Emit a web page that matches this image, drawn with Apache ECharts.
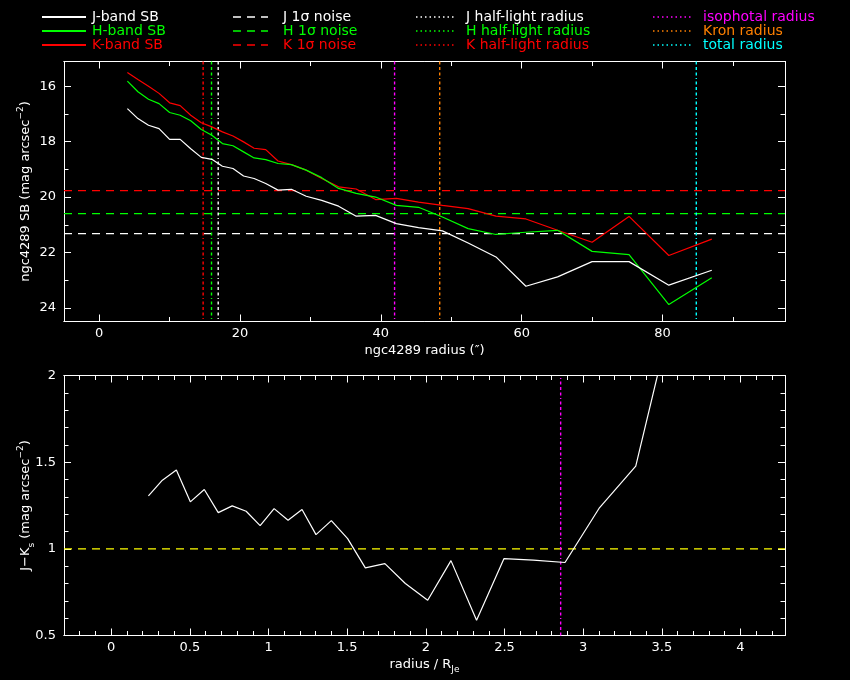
<!DOCTYPE html>
<html>
<head>
<meta charset="utf-8">
<script src="https://cdn.jsdelivr.net/npm/echarts@6/dist/echarts.min.js"></script>
<style>html,body{margin:0;padding:0;background:#000;}#c{width:850px;height:680px;}</style>
</head>
<body>
<div id="c"></div>
<script>
// ---------------- data ----------------
const radii = [4.0, 5.5, 7.0, 8.5, 10.0, 11.5, 13.0, 14.5, 16.0, 17.5, 19.0, 20.5, 22.0, 23.65, 25.4, 27.3, 29.4, 31.6, 34.0, 36.5, 39.25, 42.2, 45.35, 48.75, 52.4, 56.35, 60.6, 65.1, 70.0, 75.25, 80.9, 87.0];
const jSB = [16.81, 17.17, 17.41, 17.53, 17.92, 17.92, 18.26, 18.57, 18.64, 18.89, 18.97, 19.24, 19.33, 19.51, 19.75, 19.72, 19.97, 20.12, 20.33, 20.69, 20.66, 20.96, 21.10, 21.22, 21.66, 22.16, 23.22, 22.88, 22.33, 22.33, 23.18, 22.64];
const hSB = [15.82, 16.20, 16.47, 16.63, 16.95, 17.05, 17.25, 17.56, 17.77, 18.07, 18.15, 18.37, 18.59, 18.65, 18.79, 18.83, 19.03, 19.30, 19.69, 19.87, 20.00, 20.30, 20.37, 20.72, 21.14, 21.35, 21.27, 21.20, 21.96, 22.08, 23.88, 22.91];
const kSB = [15.51, 15.76, 16.00, 16.26, 16.60, 16.70, 17.05, 17.32, 17.47, 17.65, 17.80, 18.01, 18.24, 18.29, 18.70, 18.83, 19.03, 19.33, 19.63, 19.71, 20.09, 20.05, 20.18, 20.30, 20.42, 20.69, 20.79, 21.20, 21.63, 20.70, 22.11, 21.52];
const jkColor = [1.305, 1.396, 1.455, 1.271, 1.342, 1.209, 1.248, 1.217, 1.134, 1.232, 1.165, 1.227, 1.082, 1.163, 1.059, 0.890, 0.915, 0.800, 0.703, 0.932, 0.588, 0.944, 0.935, 0.921, 1.233, 1.477, 2.43];
const noiseLevels = {J: 21.32, H: 20.60, K: 19.77};
const halfLightRadii = {J: 16.9, H: 15.95, K: 14.76};
const isophotalRadius = 41.95;
const kronRadius = 48.36;
const totalRadius = 84.8;
const colorMarkerPos = 2.857;   // vertical marker in colour panel (radius / R_Je)
const colorReference = 1.0;     // yellow dashed reference line

const topXRange = [-5, 97.4];
const topYRange = [15.11, 24.49];
const botXRange = [-0.3, 4.283];
const botYRange = [0.5, 2.0];

const topXTicks = [0, 20, 40, 60, 80];
const topXMinor = [0, 10, 20, 30, 40, 50, 60, 70, 80, 90];
const topYTicks = [16, 18, 20, 22, 24];
const topYMinor = [16, 17, 18, 19, 20, 21, 22, 23, 24];
const botXTicks = [0, 0.5, 1, 1.5, 2, 2.5, 3, 3.5, 4];
const botXMinor = [-0.3,-0.2,-0.1,0,0.1,0.2,0.3,0.4,0.5,0.6,0.7,0.8,0.9,1,1.1,1.2,1.3,1.4,1.5,1.6,1.7,1.8,1.9,2,2.1,2.2,2.3,2.4,2.5,2.6,2.7,2.8,2.9,3,3.1,3.2,3.3,3.4,3.5,3.6,3.7,3.8,3.9,4,4.1,4.2];
const botYTicks = [0.5, 1, 1.5, 2];
const botYMinor = [0.5,0.6,0.7,0.8,0.9,1,1.1,1.2,1.3,1.4,1.5,1.6,1.7,1.8,1.9,2];

const legendLabels = [
  ['J-band SB', 'H-band SB', 'K-band SB'],
  ['J 1\u03c3 noise', 'H 1\u03c3 noise', 'K 1\u03c3 noise'],
  ['J half-light radius', 'H half-light radius', 'K half-light radius'],
  ['isophotal radius', 'Kron radius', 'total radius']
];

// ---------------- styles ----------------
const C = {J:'#ffffff', H:'#00ff00', K:'#ff0000', iso:'#ff00ff', kron:'#ff8000', tot:'#00ffff', yel:'#ffff00'};
const FONT = 'DejaVu Sans';
const DASH = [8, 6];
const DOT = [3, 2.5, 3, 2.5, 3, 2.5, 1, 2.5];
const REF_W = 1.4;

function pairs(xs, ys) { return ys.map((y, i) => [xs[i], y]); }

function makeAxes(dim, gi, range, majors, minors, inverse, nameCfg) {
  const sides = dim === 'x' ? ['bottom', 'top'] : ['left', 'right'];
  const out = [];
  sides.forEach((pos, si) => {
    [majors, minors].forEach((vals, mi) => {
      const primary = si === 0 && mi === 0;
      const ax = {
        type: 'value', gridIndex: gi, position: pos, min: range[0], max: range[1], inverse: !!inverse,
        axisLine: {show: true, onZero: false, lineStyle: {color: '#fff', width: 1}},
        axisTick: {show: true, inside: true, length: mi === 0 ? 7 : 4.5, customValues: vals, lineStyle: {color: '#fff', width: 1}},
        axisLabel: primary ? {show: true, customValues: majors, color: '#fff', fontSize: 13, fontFamily: FONT, margin: dim === 'x' ? 6 : 8} : {show: false},
        splitLine: {show: false}, minorTick: {show: false}
      };
      if (primary && nameCfg) Object.assign(ax, nameCfg, {nameMoveOverlap: false});
      out.push(ax);
    });
  });
  return out;
}

const richBase = {
  b: {color: '#fff', fontSize: 13, fontFamily: FONT, lineHeight: 20, verticalAlign: 'middle'},
  sup: {color: '#fff', fontSize: 9, fontFamily: FONT, lineHeight: 11, verticalAlign: 'top'},
  sub: {color: '#fff', fontSize: 9, fontFamily: FONT, lineHeight: 11, verticalAlign: 'bottom'}
};

const xAxes = [].concat(
  makeAxes('x', 0, topXRange, topXTicks, topXMinor, false, {
    name: 'ngc4289 radius (\u2033)', nameLocation: 'middle', nameGap: 23,
    nameTextStyle: {color: '#fff', fontSize: 13, fontFamily: FONT}
  }),
  makeAxes('x', 1, botXRange, botXTicks, botXMinor, false, {
    name: '{b|radius / R}{sub|Je}', nameLocation: 'middle', nameGap: 19,
    nameTextStyle: {rich: richBase}
  })
);
const yAxes = [].concat(
  makeAxes('y', 0, topYRange, topYTicks, topYMinor, true, {
    name: '{b|ngc4289 SB (mag arcsec}{sup|\u22122}{b|)}', nameLocation: 'middle', nameGap: 28,
    nameTextStyle: {rich: richBase}
  }),
  makeAxes('y', 1, botYRange, botYTicks, botYMinor, false, {
    name: '{b|J\u2212K}{sub|s}{b| (mag arcsec}{sup|\u22122}{b|)}', nameLocation: 'middle', nameGap: 28,
    nameTextStyle: {rich: richBase}
  })
);

// straight reference lines as two-point series spanning the panel
function hSeries(panel, y, color, dash, xr) {
  return {type: 'line', xAxisIndex: panel * 4, yAxisIndex: panel * 4, data: [[xr[0], y], [xr[1], y]],
    symbol: 'none', silent: true, lineStyle: {color: color, width: REF_W, type: dash}, z: 2};
}
function vSeries(panel, x, color, yr) {
  return {type: 'line', xAxisIndex: panel * 4, yAxisIndex: panel * 4, data: [[x, yr[0]], [x, yr[1]]],
    symbol: 'none', silent: true, lineStyle: {color: color, width: REF_W, type: DOT}, z: 2};
}

const colorX = radii.slice(0, jkColor.length).map(r => r / halfLightRadii.J);

const series = [
  hSeries(0, noiseLevels.J, C.J, DASH, topXRange),
  hSeries(0, noiseLevels.H, C.H, DASH, topXRange),
  hSeries(0, noiseLevels.K, C.K, DASH, topXRange),
  vSeries(0, halfLightRadii.J, C.J, topYRange),
  vSeries(0, halfLightRadii.H, C.H, topYRange),
  vSeries(0, halfLightRadii.K, C.K, topYRange),
  vSeries(0, isophotalRadius, C.iso, topYRange),
  vSeries(0, kronRadius, C.kron, topYRange),
  vSeries(0, totalRadius, C.tot, topYRange),
  {type: 'line', name: 'J-band SB', xAxisIndex: 0, yAxisIndex: 0, data: pairs(radii, jSB), symbol: 'none', lineStyle: {color: C.J, width: 1.2}, z: 5},
  {type: 'line', name: 'H-band SB', xAxisIndex: 0, yAxisIndex: 0, data: pairs(radii, hSB), symbol: 'none', lineStyle: {color: C.H, width: 1.2}, z: 4},
  {type: 'line', name: 'K-band SB', xAxisIndex: 0, yAxisIndex: 0, data: pairs(radii, kSB), symbol: 'none', lineStyle: {color: C.K, width: 1.2}, z: 3},
  hSeries(1, colorReference, C.yel, DASH, botXRange),
  vSeries(1, colorMarkerPos, C.iso, botYRange),
  {type: 'line', name: 'J-Ks', xAxisIndex: 4, yAxisIndex: 4, data: pairs(colorX, jkColor),
    symbol: 'none', lineStyle: {color: '#fff', width: 1.2}, clip: true, z: 5}
];

// legend drawn as graphic elements
const legendCols = [
  {x1: 42, x2: 86, tx: 92, dash: null},
  {x1: 233, x2: 268, tx: 283, dash: DASH},
  {x1: 416, x2: 455, tx: 466, dash: [1.5, 3]},
  {x1: 653, x2: 691, tx: 703, dash: [1.5, 3]}
];
const legendColors = [[C.J, C.H, C.K], [C.J, C.H, C.K], [C.J, C.H, C.K], [C.iso, C.kron, C.tot]];
const legendRows = [17, 31, 45];
const graphic = [];
legendLabels.forEach((col, ci) => {
  col.forEach((label, ri) => {
    const y = legendRows[ri];
    const cfg = legendCols[ci];
    graphic.push({type: 'line', silent: true, shape: {x1: cfg.x1, y1: y, x2: cfg.x2, y2: y},
      style: {stroke: legendColors[ci][ri], lineWidth: ci === 0 ? 2 : 1.5, lineDash: cfg.dash ? cfg.dash.slice() : null}});
    graphic.push({type: 'text', silent: true, x: cfg.tx, y: y,
      style: {text: label, fill: legendColors[ci][ri], fontSize: 14, fontFamily: FONT, verticalAlign: 'middle', align: 'left'}});
  });
});

const chart = echarts.init(document.getElementById('c'), null, {renderer: 'canvas'});
chart.setOption({
  backgroundColor: '#000',
  animation: false,
  grid: [
    {left: 64, right: 65, top: 61.5, height: 260},
    {left: 64, right: 65, top: 375.5, height: 260}
  ],
  xAxis: xAxes,
  yAxis: yAxes,
  series: series,
  graphic: graphic
});
</script>
</body>
</html>
